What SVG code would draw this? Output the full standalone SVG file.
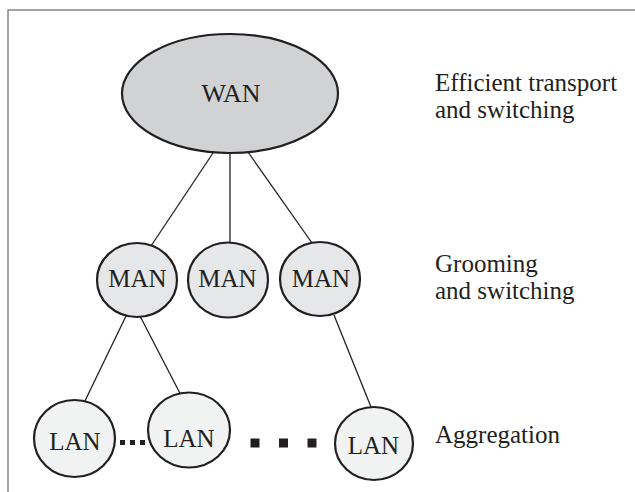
<svg xmlns="http://www.w3.org/2000/svg" width="635" height="492" viewBox="0 0 635 492">
<style>
.node{stroke:#231f20;stroke-width:2.2}
.lbl{font-family:"Liberation Serif","Times New Roman",serif;font-size:25px;fill:#231f20;text-anchor:middle}
.side{font-family:"Liberation Serif","Times New Roman",serif;font-size:25px;fill:#231f20}
.conn{stroke:#231f20;stroke-width:1.3;fill:none}
</style>
<rect width="635" height="492" fill="#ffffff"/>
<path d="M8 492 V10 H635" fill="none" stroke="#858585" stroke-width="1.5"/>
<g id="connectors">
<line class="conn" x1="213" y1="153" x2="151" y2="246"/>
<line class="conn" x1="230" y1="153" x2="230" y2="243"/>
<line class="conn" x1="248" y1="152" x2="312" y2="243"/>
<line class="conn" x1="126" y1="316" x2="83" y2="405"/>
<line class="conn" x1="140" y1="316" x2="185" y2="403"/>
<line class="conn" x1="334" y1="315" x2="371" y2="407"/>
<line stroke="#231f20" stroke-width="5" stroke-dasharray="5 5" x1="120" y1="442.5" x2="147" y2="442.5"/>
<g fill="#231f20">
<rect x="250.5" y="438.5" width="9" height="9"/>
<rect x="279" y="438.5" width="9" height="9"/>
<rect x="307.5" y="438.5" width="9" height="9"/>
</g>
</g>
<g id="wan">
<ellipse class="node" cx="230" cy="93.5" rx="108" ry="59.5" fill="#d1d2d4"/>
<text class="lbl" x="231" y="102" style="font-size:26px">WAN</text>
</g>
<g id="man1">
<ellipse class="node" cx="137" cy="280" rx="40" ry="37" fill="#e6e7e8"/>
<text class="lbl" x="137.5" y="287">MAN</text>
</g>
<g id="man2">
<ellipse class="node" cx="228" cy="280" rx="40" ry="37.5" fill="#e6e7e8"/>
<text class="lbl" x="227.5" y="287">MAN</text>
</g>
<g id="man3">
<ellipse class="node" cx="320" cy="279" rx="40" ry="37" fill="#e6e7e8"/>
<text class="lbl" x="321" y="287">MAN</text>
</g>
<g id="lan1">
<ellipse class="node" cx="74.5" cy="438.5" rx="40.5" ry="38.5" fill="#f1f2f2"/>
<text class="lbl" x="75" y="450">LAN</text>
</g>
<g id="lan2">
<ellipse class="node" cx="189" cy="430" rx="41" ry="37.5" fill="#f1f2f2"/>
<text class="lbl" x="189" y="446.5">LAN</text>
</g>
<g id="lan3">
<ellipse class="node" cx="374" cy="443.5" rx="39" ry="36.5" fill="#f1f2f2"/>
<text class="lbl" x="373.5" y="454">LAN</text>
</g>
<g id="labels">
<text class="side" x="435" y="91">Efficient transport</text>
<text class="side" x="435" y="118">and switching</text>
<text class="side" x="435" y="272">Grooming</text>
<text class="side" x="435" y="299">and switching</text>
<text class="side" x="435" y="443">Aggregation</text>
</g>
</svg>
